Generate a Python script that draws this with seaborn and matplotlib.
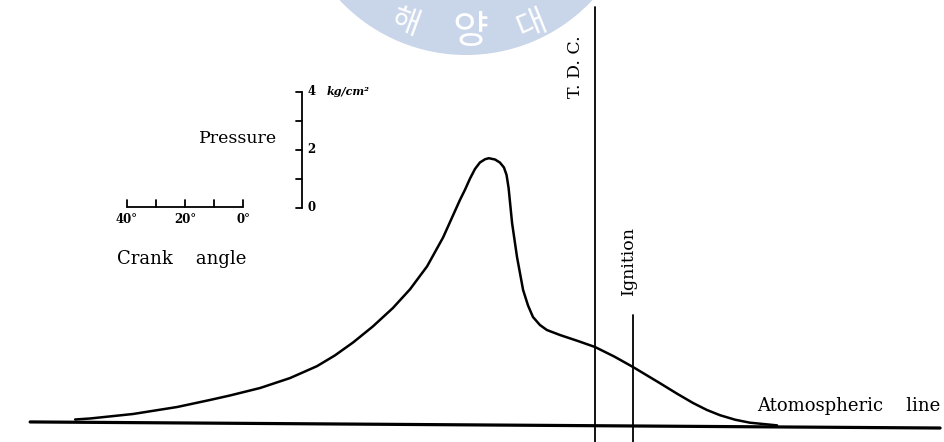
import matplotlib
matplotlib.use("Agg")
import matplotlib.pyplot as plt
import numpy as np
import pandas as pd
import seaborn as sns
from matplotlib.patches import Wedge

# ---------------- data (crank angle in degrees after TDC, pressure in kg/cm^2) -------------
crank_angle = [179.3, 174.1, 159.3, 144.1, 132.8, 125.9, 115.5, 105.2, 95.9, 89.7,
               83.4, 76.6, 69.7, 63.8, 57.9, 52.4, 46.6, 44.8, 43.1, 41.4,
               39.7, 37.9, 36.6, 34.5, 32.8, 31.4, 30.5, 29.8, 28.6, 26.9,
               24.8, 23.1, 21.4, 19.0, 16.6, 12.1, 5.9, 0.0, -6.6, -13.1,
               -22.4, -28.3, -33.8, -38.6, -43.1, -48.3, -53.4, -62.8]
pressure = [0.224, 0.259, 0.414, 0.655, 0.897, 1.052, 1.310, 1.652, 2.062, 2.434,
            2.883, 3.434, 4.069, 4.714, 5.507, 6.500, 7.790, 8.155, 8.534, 8.862,
            9.086, 9.200, 9.234, 9.190, 9.086, 8.914, 8.655, 8.207, 7.000, 5.828,
            4.690, 4.155, 3.759, 3.483, 3.310, 3.138, 2.931, 2.724, 2.397, 2.034,
            1.476, 1.114, 0.793, 0.552, 0.372, 0.217, 0.114, 0.021]

atmos_angle = [194.8, -119.0]
atmos_pressure = [0.14, -0.07]

event_labels = ["T. D. C.", "Ignition"]
event_angles = [0.0, -13.1]
event_tops = [14.45, 3.83]

pressure_scale_ticks = [0, 1, 2, 3, 4]
pressure_scale_labels = ["0", "", "2", "", "4"]
crank_scale_ticks = [40, 30, 20, 10, 0]
crank_scale_labels = ["40°", "", "20°", "", "0°"]

# ---------------- figure ----------------
sns.set_theme(style="white")
plt.rcParams['font.family'] = ['DejaVu Serif', 'DejaVu Sans']
plt.rcParams['text.color'] = 'black'

fig = plt.figure(figsize=(9.45, 4.42), dpi=100, facecolor="white")

# watermark layer (pixel coordinates)
wm = fig.add_axes([0, 0, 1, 1], zorder=0)
wm.set_xlim(0, 945)
wm.set_ylim(442, 0)
wm.axis("off")
ring = Wedge((466, -118), 173, 0, 360, width=55, facecolor="#c9d5e9", edgecolor="none")
wm.add_patch(ring)
kfont = ['Noto Sans CJK KR', 'DejaVu Sans']
for ch, (px, py, rot, fs) in zip(["해", "양", "대"],
                                 [(405, 23, -20, 22), (470, 32, 0, 28), (531, 24, 22, 23)]):
    wm.text(px, py, ch, family=kfont, fontsize=fs, color="white",
            ha="center", va="center", rotation=rot)

ax = fig.add_axes([0, 0, 1, 1], zorder=1)
ax.patch.set_alpha(0)

df = pd.DataFrame({"angle": crank_angle, "pressure": pressure})
sns.lineplot(data=df, x="angle", y="pressure", sort=False, estimator=None,
             color="black", lw=1.8, ax=ax)
sns.lineplot(x=atmos_angle, y=atmos_pressure, sort=False, estimator=None,
             color="black", lw=2.3, ax=ax)

for a, top in zip(event_angles, event_tops):
    ax.plot([a, a], [-1, top], color="black", lw=1.3)

ax.set_xlim(205.2, -120.7)
ax.set_ylim(-0.552, 14.69)
ax.axis("off")

serif = 12.5
tc = "black"
ax.text(6.9, 12.38, event_labels[0], rotation=90, ha="center", va="center",
        fontsize=serif, color=tc)
ax.text(-11.7, 5.72, event_labels[1], rotation=90, ha="center", va="center",
        fontsize=serif, color=tc)
ax.text(-55.9, 0.52, "Atomospheric    line", ha="left", va="baseline", fontsize=13, color=tc)
ax.text(109.7, 9.77, "Pressure", ha="right", va="baseline", fontsize=serif, color=tc)
ax.text(164.8, 5.59, "Crank    angle", ha="left", va="baseline", fontsize=13, color=tc)

# pressure scale bar
ps_a, ps_p = 101.0, 7.52
ax.plot([ps_a, ps_a], [ps_p + min(pressure_scale_ticks), ps_p + max(pressure_scale_ticks)],
        color="black", lw=1.3)
for v, lab in zip(pressure_scale_ticks, pressure_scale_labels):
    ax.plot([ps_a, ps_a + 2.0], [ps_p + v, ps_p + v], color="black", lw=1.3)
    if lab:
        ax.text(ps_a - 1.8, ps_p + v, lab, ha="left", va="center", fontsize=8.5,
                fontweight="bold", color=tc)
ax.text(92.4, ps_p + 4.0, "kg/cm²", ha="left", va="center", fontsize=8,
        fontweight="bold", style="italic", color=tc)

# crank angle scale bar
cs_a, cs_p = 121.4, 7.55
ax.plot([cs_a + min(crank_scale_ticks), cs_a + max(crank_scale_ticks)], [cs_p, cs_p],
        color="black", lw=1.3)
for c, lab in zip(crank_scale_ticks, crank_scale_labels):
    ax.plot([cs_a + c, cs_a + c], [cs_p, cs_p + 0.25], color="black", lw=1.3)
    if lab:
        ax.text(cs_a + c, cs_p - 0.2, lab, ha="center", va="top", fontsize=8.5,
                fontweight="bold", color=tc)

fig.savefig("out.png", dpi=100, facecolor="white")
